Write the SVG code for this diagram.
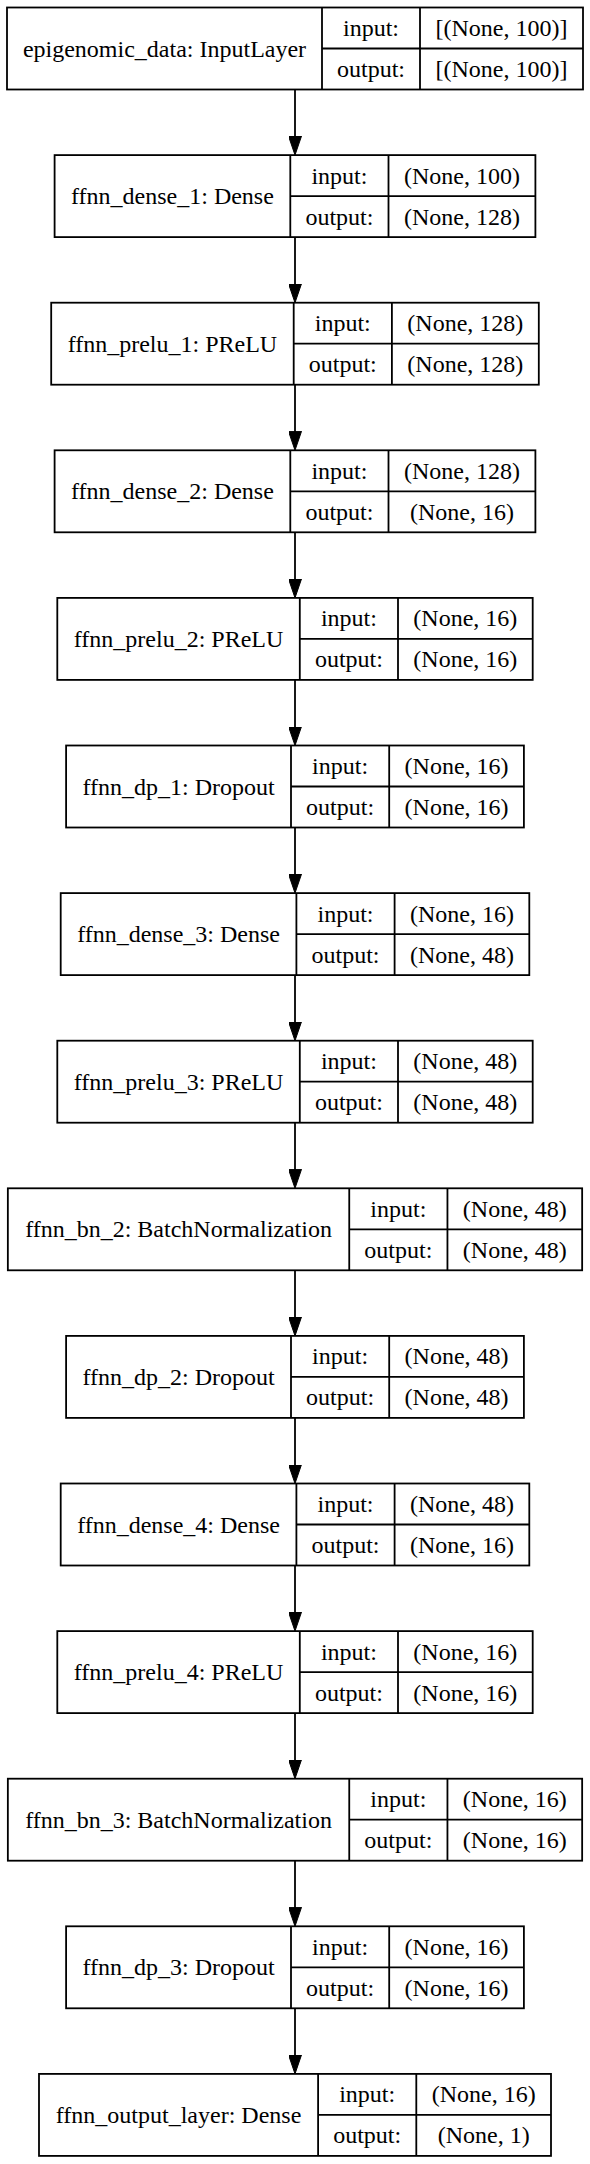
<svg xmlns="http://www.w3.org/2000/svg" width="590" height="2164" viewBox="0 0 590 2164">
<defs>
<style>
.b{fill:#fff;stroke:#000;stroke-width:1.8}
.l{stroke:#000;stroke-width:1.8;fill:none}
.e{stroke:#000;stroke-width:1.8;fill:none}
text{font-family:"Liberation Serif","Times New Roman",serif;font-size:24px;fill:#000;text-anchor:middle}
</style>
<marker id="ah" viewBox="0 0 19 13" markerWidth="19" markerHeight="13" refX="9" refY="6.5" orient="auto" markerUnits="userSpaceOnUse">
<path d="M0,0 L19,6.5 L0,13 z" fill="#000" stroke="#000" stroke-width="1"/>
</marker>
</defs>
<rect width="590" height="2164" fill="#fff"/>
<g id="connectors">
<line class="e" x1="295" y1="89.5" x2="295" y2="145.1" marker-end="url(#ah)"/>
<line class="e" x1="295" y1="237.1" x2="295" y2="292.7" marker-end="url(#ah)"/>
<line class="e" x1="295" y1="384.7" x2="295" y2="440.3" marker-end="url(#ah)"/>
<line class="e" x1="295" y1="532.3" x2="295" y2="587.9" marker-end="url(#ah)"/>
<line class="e" x1="295" y1="679.9" x2="295" y2="735.5" marker-end="url(#ah)"/>
<line class="e" x1="295" y1="827.5" x2="295" y2="883.1" marker-end="url(#ah)"/>
<line class="e" x1="295" y1="975.1" x2="295" y2="1030.7" marker-end="url(#ah)"/>
<line class="e" x1="295" y1="1122.7" x2="295" y2="1178.3" marker-end="url(#ah)"/>
<line class="e" x1="295" y1="1270.3" x2="295" y2="1325.9" marker-end="url(#ah)"/>
<line class="e" x1="295" y1="1417.9" x2="295" y2="1473.5" marker-end="url(#ah)"/>
<line class="e" x1="295" y1="1565.5" x2="295" y2="1621.1" marker-end="url(#ah)"/>
<line class="e" x1="295" y1="1713.1" x2="295" y2="1768.7" marker-end="url(#ah)"/>
<line class="e" x1="295" y1="1860.7" x2="295" y2="1916.3" marker-end="url(#ah)"/>
<line class="e" x1="295" y1="2008.3" x2="295" y2="2063.9" marker-end="url(#ah)"/>
</g>
<g id="epigenomic_data">
<rect class="b" x="7" y="7.5" width="576" height="82"/>
<path class="l" d="M322,7.5V89.5M420,7.5V89.5M322,48.5H583"/>
<text x="164.5" y="56.5">epigenomic_data: InputLayer</text>
<text x="371" y="36">input:</text>
<text x="501.5" y="36">[(None, 100)]</text>
<text x="371" y="77">output:</text>
<text x="501.5" y="77">[(None, 100)]</text>
</g>
<g id="ffnn_dense_1">
<rect class="b" x="54.6" y="155.1" width="480.8" height="82"/>
<path class="l" d="M290.3,155.1V237.1M388.5,155.1V237.1M290.3,196.1H535.4"/>
<text x="172.45" y="204.1">ffnn_dense_1: Dense</text>
<text x="339.4" y="183.6">input:</text>
<text x="461.95" y="183.6">(None, 100)</text>
<text x="339.4" y="224.6">output:</text>
<text x="461.95" y="224.6">(None, 128)</text>
</g>
<g id="ffnn_prelu_1">
<rect class="b" x="51.2" y="302.7" width="487.6" height="82"/>
<path class="l" d="M293.7,302.7V384.7M391.9,302.7V384.7M293.7,343.7H538.8"/>
<text x="172.45" y="351.7">ffnn_prelu_1: PReLU</text>
<text x="342.8" y="331.2">input:</text>
<text x="465.35" y="331.2">(None, 128)</text>
<text x="342.8" y="372.2">output:</text>
<text x="465.35" y="372.2">(None, 128)</text>
</g>
<g id="ffnn_dense_2">
<rect class="b" x="54.6" y="450.3" width="480.8" height="82"/>
<path class="l" d="M290.3,450.3V532.3M388.5,450.3V532.3M290.3,491.3H535.4"/>
<text x="172.45" y="499.3">ffnn_dense_2: Dense</text>
<text x="339.4" y="478.8">input:</text>
<text x="461.95" y="478.8">(None, 128)</text>
<text x="339.4" y="519.8">output:</text>
<text x="461.95" y="519.8">(None, 16)</text>
</g>
<g id="ffnn_prelu_2">
<rect class="b" x="57.3" y="597.9" width="475.4" height="82"/>
<path class="l" d="M299.8,597.9V679.9M398,597.9V679.9M299.8,638.9H532.7"/>
<text x="178.55" y="646.9">ffnn_prelu_2: PReLU</text>
<text x="348.9" y="626.4">input:</text>
<text x="465.35" y="626.4">(None, 16)</text>
<text x="348.9" y="667.4">output:</text>
<text x="465.35" y="667.4">(None, 16)</text>
</g>
<g id="ffnn_dp_1">
<rect class="b" x="66.1" y="745.5" width="457.8" height="82"/>
<path class="l" d="M291,745.5V827.5M389.2,745.5V827.5M291,786.5H523.9"/>
<text x="178.55" y="794.5">ffnn_dp_1: Dropout</text>
<text x="340.1" y="774">input:</text>
<text x="456.55" y="774">(None, 16)</text>
<text x="340.1" y="815">output:</text>
<text x="456.55" y="815">(None, 16)</text>
</g>
<g id="ffnn_dense_3">
<rect class="b" x="60.7" y="893.1" width="468.6" height="82"/>
<path class="l" d="M296.4,893.1V975.1M394.6,893.1V975.1M296.4,934.1H529.3"/>
<text x="178.55" y="942.1">ffnn_dense_3: Dense</text>
<text x="345.5" y="921.6">input:</text>
<text x="461.95" y="921.6">(None, 16)</text>
<text x="345.5" y="962.6">output:</text>
<text x="461.95" y="962.6">(None, 48)</text>
</g>
<g id="ffnn_prelu_3">
<rect class="b" x="57.3" y="1040.7" width="475.4" height="82"/>
<path class="l" d="M299.8,1040.7V1122.7M398,1040.7V1122.7M299.8,1081.7H532.7"/>
<text x="178.55" y="1089.7">ffnn_prelu_3: PReLU</text>
<text x="348.9" y="1069.2">input:</text>
<text x="465.35" y="1069.2">(None, 48)</text>
<text x="348.9" y="1110.2">output:</text>
<text x="465.35" y="1110.2">(None, 48)</text>
</g>
<g id="ffnn_bn_2">
<rect class="b" x="7.85" y="1188.3" width="574.3" height="82"/>
<path class="l" d="M349.25,1188.3V1270.3M447.45,1188.3V1270.3M349.25,1229.3H582.15"/>
<text x="178.55" y="1237.3">ffnn_bn_2: BatchNormalization</text>
<text x="398.35" y="1216.8">input:</text>
<text x="514.8" y="1216.8">(None, 48)</text>
<text x="398.35" y="1257.8">output:</text>
<text x="514.8" y="1257.8">(None, 48)</text>
</g>
<g id="ffnn_dp_2">
<rect class="b" x="66.1" y="1335.9" width="457.8" height="82"/>
<path class="l" d="M291,1335.9V1417.9M389.2,1335.9V1417.9M291,1376.9H523.9"/>
<text x="178.55" y="1384.9">ffnn_dp_2: Dropout</text>
<text x="340.1" y="1364.4">input:</text>
<text x="456.55" y="1364.4">(None, 48)</text>
<text x="340.1" y="1405.4">output:</text>
<text x="456.55" y="1405.4">(None, 48)</text>
</g>
<g id="ffnn_dense_4">
<rect class="b" x="60.7" y="1483.5" width="468.6" height="82"/>
<path class="l" d="M296.4,1483.5V1565.5M394.6,1483.5V1565.5M296.4,1524.5H529.3"/>
<text x="178.55" y="1532.5">ffnn_dense_4: Dense</text>
<text x="345.5" y="1512">input:</text>
<text x="461.95" y="1512">(None, 48)</text>
<text x="345.5" y="1553">output:</text>
<text x="461.95" y="1553">(None, 16)</text>
</g>
<g id="ffnn_prelu_4">
<rect class="b" x="57.3" y="1631.1" width="475.4" height="82"/>
<path class="l" d="M299.8,1631.1V1713.1M398,1631.1V1713.1M299.8,1672.1H532.7"/>
<text x="178.55" y="1680.1">ffnn_prelu_4: PReLU</text>
<text x="348.9" y="1659.6">input:</text>
<text x="465.35" y="1659.6">(None, 16)</text>
<text x="348.9" y="1700.6">output:</text>
<text x="465.35" y="1700.6">(None, 16)</text>
</g>
<g id="ffnn_bn_3">
<rect class="b" x="7.85" y="1778.7" width="574.3" height="82"/>
<path class="l" d="M349.25,1778.7V1860.7M447.45,1778.7V1860.7M349.25,1819.7H582.15"/>
<text x="178.55" y="1827.7">ffnn_bn_3: BatchNormalization</text>
<text x="398.35" y="1807.2">input:</text>
<text x="514.8" y="1807.2">(None, 16)</text>
<text x="398.35" y="1848.2">output:</text>
<text x="514.8" y="1848.2">(None, 16)</text>
</g>
<g id="ffnn_dp_3">
<rect class="b" x="66.1" y="1926.3" width="457.8" height="82"/>
<path class="l" d="M291,1926.3V2008.3M389.2,1926.3V2008.3M291,1967.3H523.9"/>
<text x="178.55" y="1975.3">ffnn_dp_3: Dropout</text>
<text x="340.1" y="1954.8">input:</text>
<text x="456.55" y="1954.8">(None, 16)</text>
<text x="340.1" y="1995.8">output:</text>
<text x="456.55" y="1995.8">(None, 16)</text>
</g>
<g id="ffnn_output_layer">
<rect class="b" x="39" y="2073.9" width="512" height="82"/>
<path class="l" d="M318.1,2073.9V2155.9M416.3,2073.9V2155.9M318.1,2114.9H551"/>
<text x="178.55" y="2122.9">ffnn_output_layer: Dense</text>
<text x="367.2" y="2102.4">input:</text>
<text x="483.65" y="2102.4">(None, 16)</text>
<text x="367.2" y="2143.4">output:</text>
<text x="483.65" y="2143.4">(None, 1)</text>
</g>
</svg>
